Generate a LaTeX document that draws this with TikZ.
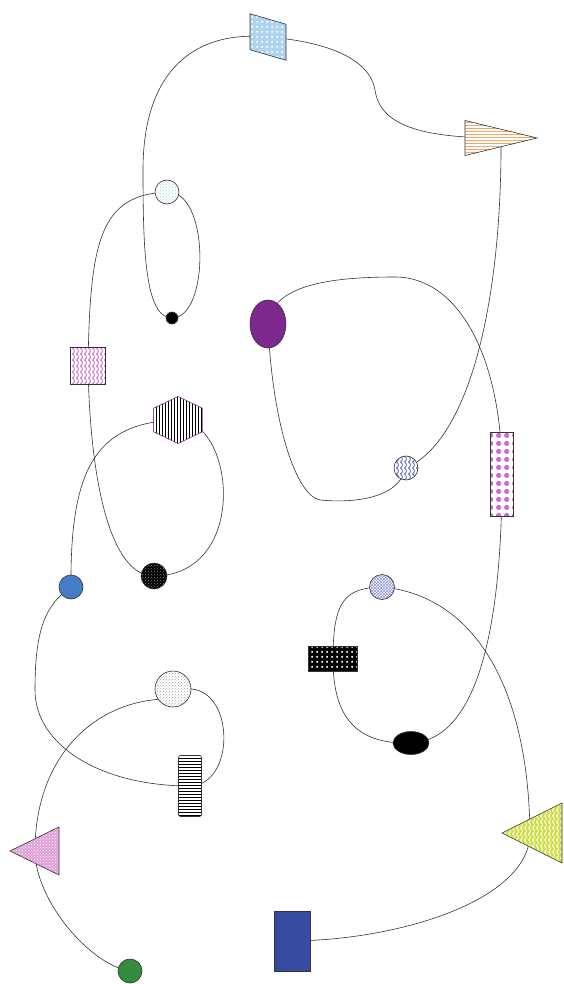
\documentclass[tikz,border=0pt]{standalone}
\usepackage{xcolor}
\usetikzlibrary{shapes.geometric, patterns}
\pgfdeclarelayer{background}
\pgfsetlayers{background,main}
\definecolor{skyb}{RGB}{175, 212, 240}
\definecolor{peach}{RGB}{245, 165, 100}
\definecolor{iceb}{RGB}{175, 210, 222}
\definecolor{plum}{RGB}{125, 40, 140}
\definecolor{orchid}{RGB}{205, 105, 205}
\definecolor{lilac}{RGB}{90, 100, 205}
\definecolor{royal}{RGB}{70, 125, 200}
\definecolor{navyb}{RGB}{55, 75, 160}
\definecolor{lime}{RGB}{205, 222, 70}
\definecolor{rose}{RGB}{225, 160, 215}
\definecolor{leaf}{RGB}{50, 140, 60}
% fill patterns of my own
\pgfdeclarepatternformonly{bigdots}{\pgfqpoint{0pt}{0pt}}{\pgfqpoint{7.5pt}{7.5pt}}{\pgfqpoint{7.5pt}{7.5pt}}%
  {\pgfpathcircle{\pgfqpoint{3.75pt}{3.75pt}}{2.7pt}\pgfusepath{fill}}
\pgfdeclarepatternformonly{middots}{\pgfqpoint{0pt}{0pt}}{\pgfqpoint{5pt}{5pt}}{\pgfqpoint{5pt}{5pt}}%
  {\pgfpathcircle{\pgfqpoint{2.5pt}{2.5pt}}{1.3pt}\pgfusepath{fill}}
\pgfdeclarepatternformonly{waves}{\pgfqpoint{-1pt}{-1pt}}{\pgfqpoint{5pt}{7pt}}{\pgfqpoint{4pt}{6pt}}%
  {\pgfsetlinewidth{0.8pt}\pgfpathmoveto{\pgfqpoint{0.5pt}{0pt}}%
   \pgfpathcurveto{\pgfqpoint{3pt}{1.5pt}}{\pgfqpoint{3pt}{4.5pt}}{\pgfqpoint{0.5pt}{6pt}}\pgfusepath{stroke}}

\begin{document}
\begin{tikzpicture}[
  x=1pt, y=-1pt,
  shp/.style={draw=black!80, line width=0.6pt, inner sep=0pt, outer sep=0pt},
  rnd/.style={shp, circle, minimum size=#1},
  box/.style 2 args={shp, rectangle, minimum width=#1, minimum height=#2},
  oval/.style 2 args={shp, ellipse, minimum width=#1, minimum height=#2},
  tri/.style 2 args={shp, isosceles triangle, isosceles triangle stretches,
                     minimum height=#1, minimum width=#2},
  link/.style={line width=0.6pt, black!80}
]
  \useasboundingbox (0,0) rectangle (563,984);

  % upper part
  \node[box={36}{36}, yslant=-0.29, preaction={fill=skyb},
        pattern=middots, pattern color=white] (slab) at (268,37) {};
  \node[tri={72}{35}, anchor=apex, preaction={fill=white},
        pattern=horizontal lines, pattern color=peach] (peachtri) at (537,138) {};
  \node[rnd=24, preaction={fill=white}, pattern=crosshatch dots,
        pattern color=iceb] (icering) at (167,192) {};
  \node[rnd=12, fill=black] (blackdot) at (172,318) {};
  \node[oval={36}{48}, fill=plum] (plumoval) at (268,324) {};
  \node[box={35}{37}, preaction={fill=white}, pattern=waves,
        pattern color=orchid] (pinksq) at (88,366) {};
  \node[shp, regular polygon, regular polygon sides=6, shape border rotate=30,
        minimum size=47, xscale=1.2, draw=plum, preaction={fill=white},
        pattern=vertical lines] (hexa) at (178,420) {};
  \node[rnd=24, preaction={fill=white}, pattern=waves,
        pattern color=lilac] (waveball) at (406,468) {};
  \node[box={23}{84}, preaction={fill=white}, pattern=bigdots,
        pattern color=orchid] (pinkbar) at (502,474) {};

  % middle part
  \node[rnd=26, preaction={fill=black}, pattern=crosshatch dots,
        pattern color=gray] (darkring) at (154,576) {};
  \node[rnd=24, fill=royal] (bluering) at (71,587) {};
  \node[rnd=25, preaction={fill=white}, pattern=crosshatch,
        pattern color=lilac!70] (meshball) at (382,587) {};
  \node[box={49}{25}, preaction={fill=black}, pattern=middots,
        pattern color=white] (chequer) at (333,659) {};
  \node[oval={36}{23}, fill=black] (blackoval) at (411,743) {};
  \node[rnd=36, preaction={fill=white}, pattern=crosshatch dots,
        pattern color=gray!70] (greyball) at (173,689) {};
  \node[box={23}{61}, rounded corners=2pt, preaction={fill=white},
        pattern=horizontal lines] (stripebar) at (190,786) {};

  % lower part
  \node[tri={60}{60}, shape border rotate=180, anchor=apex, preaction={fill=lime},
        pattern=waves, pattern color=white] (limetri) at (502,833) {};
  \node[tri={49}{48}, shape border rotate=180, anchor=apex, preaction={fill=rose},
        pattern=crosshatch dots, pattern color=white] (rosetri) at (10,851) {};
  \node[box={36}{60}, fill=navyb] (navybox) at (292,941) {};
  \node[rnd=24, fill=leaf] (greenring) at (130,971) {};

  \begin{pgfonlayer}{background}
    \draw[link] (greenring.center) .. controls (90,965) and (35,900) .. ([xshift=25pt]rosetri.apex);
    \draw[link] ([xshift=25pt]rosetri.apex) .. controls (35,760) and (90,705) .. (greyball.215);
    \draw[link] (greyball.east) .. controls (235,692) and (235,785) .. (stripebar.center);
    \draw[link] (stripebar.center) .. controls (100,786) and (35,745) .. (35,690)
      .. controls (35,630) and (45,605) .. (bluering.center);
    \draw[link] (bluering.center) .. controls (70,470) and (95,422) .. (hexa.center);
    \draw[link] (hexa.center) .. controls (235,420) and (250,575) .. (darkring.center);
    \draw[link] (darkring.center) .. controls (110,576) and (90,480) .. (pinksq.center);
    \draw[link] (pinksq.center) .. controls (90,240) and (100,195) .. (icering.center);
    \draw[link] (icering.center) .. controls (210,190) and (210,318) .. (blackdot.center);
    \draw[link] (blackdot.center) .. controls (145,318) and (143,250) .. (143,170)
      .. controls (143,70) and (195,30) .. (slab.center);
    \draw[link] (slab.center) .. controls (330,42) and (370,60) .. (375,90)
      .. controls (380,125) and (420,138) .. ([xshift=-36pt]peachtri.apex);
    \draw[link] ([xshift=-36pt]peachtri.apex) .. controls (502,300) and (470,440) .. (waveball.center);
    \draw[link] (waveball.center) .. controls (398,500) and (350,503) .. (320,500)
      .. controls (295,495) and (272,420) .. (plumoval.center);
    \draw[link] (plumoval.center) .. controls (272,285) and (330,277) .. (395,277)
      .. controls (460,277) and (502,360) .. (pinkbar.center);
    \draw[link] (pinkbar.center) .. controls (502,620) and (480,740) .. (blackoval.center);
    \draw[link] (blackoval.center) .. controls (350,745) and (333,710) .. (chequer.center);
    \draw[link] (chequer.center) .. controls (333,600) and (345,588) .. (meshball.center);
    \draw[link] (meshball.center) .. controls (470,595) and (528,680) .. ([xshift=28pt]limetri.apex);
    \draw[link] ([xshift=28pt]limetri.apex) .. controls (530,900) and (400,940) .. (navybox.center);
  \end{pgfonlayer}
\end{tikzpicture}
\end{document}
